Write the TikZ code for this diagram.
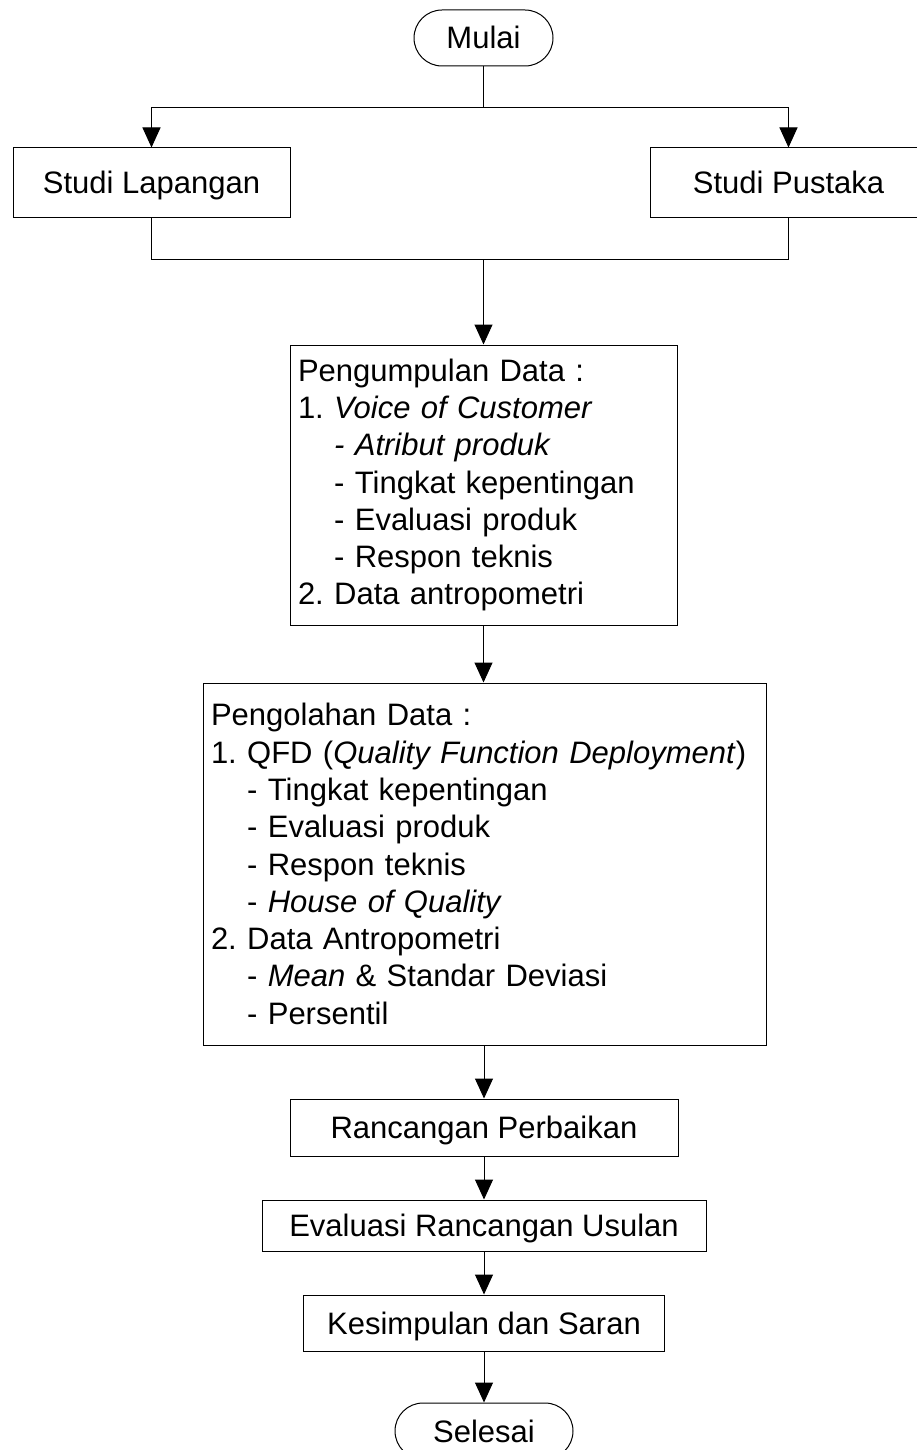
\documentclass[tikz,border=0pt]{standalone}
\usepackage{fontspec}
\setmainfont{Liberation Sans}
\usetikzlibrary{arrows.meta,shapes.misc}
\frenchspacing
\begin{document}
\begin{tikzpicture}[x=1pt,y=-1pt,
  every node/.style={font=\fontsize{31}{37.3}\selectfont},
  line/.style={draw=black,line width=1pt},
  arr/.style={line, -{Triangle[length=20pt,width=18pt]}},
  box/.style={draw=black,line width=1pt,rectangle,inner sep=0pt,text height=22pt,text depth=0pt},
  term/.style={draw=black,line width=1pt,rounded rectangle,inner sep=0pt,text height=22pt,text depth=0pt},
  listbox/.style={draw=black,line width=1pt,rectangle,inner xsep=8pt,inner ysep=0pt,align=left}
]
\clip (0,0) rectangle (917,1450);
\fill[white] (0,0) rectangle (917,1450);

\node[term, minimum width=139pt, minimum height=56pt] (mulai) at (483.5,38) {Mulai};
\coordinate (split) at (483.5,108);
\node[box, minimum width=277pt, minimum height=69pt] (sl) at (151.5,182.5) {Studi Lapangan};
\node[box, minimum width=277pt, minimum height=69pt] (sp) at (788.5,182.5) {Studi Pustaka};
\coordinate (merge) at (483.5,259);

\node[listbox, minimum width=387pt, minimum height=280pt, text width=371pt] (kumpul) at (483.5,485)
{Pengumpulan Data :\\
1. \textit{Voice of Customer}\\
\phantom{1. }\textit{- Atribut produk}\\
\phantom{1. }- Tingkat kepentingan\\
\phantom{1. }- Evaluasi produk\\
\phantom{1. }- Respon teknis\\
2. Data antropometri};

\node[listbox, minimum width=563pt, minimum height=362pt, text width=547pt] (olah) at (484.5,864)
{Pengolahan Data :\\
1. QFD (\textit{Quality Function Deployment})\\
\phantom{1. }- Tingkat kepentingan\\
\phantom{1. }- Evaluasi produk\\
\phantom{1. }- Respon teknis\\
\phantom{1. }- \textit{House of Quality}\\
2. Data Antropometri\\
\phantom{1. }- \textit{Mean} \& Standar Deviasi\\
\phantom{1. }- Persentil};

\node[box, minimum width=388pt, minimum height=57pt] (rp) at (484,1127.5) {Rancangan Perbaikan};
\node[box, minimum width=444pt, minimum height=51pt] (ev) at (484,1225.5) {Evaluasi Rancangan Usulan};
\node[box, minimum width=361pt, minimum height=56pt] (ks) at (484,1323) {Kesimpulan dan Saran};
\node[term, minimum width=178pt, minimum height=56pt] (selesai) at (484,1431) {Selesai};

\draw[line] (mulai.south) -- (split);
\draw[arr] (split) -| (sl.north);
\draw[arr] (split) -| (sp.north);
\draw[line] (sl.south) |- (merge);
\draw[line] (sp.south) |- (merge);
\draw[arr] (merge) -- (kumpul.north);
\draw[arr] (kumpul.south) -- (olah.north -| kumpul.south);
\draw[arr] (olah.south -| rp.north) -- (rp.north);
\draw[arr] (rp.south) -- (ev.north);
\draw[arr] (ev.south) -- (ks.north -| ev.south);
\draw[arr] (ks.south -| selesai.north) -- (selesai.north);
\end{tikzpicture}
\end{document}
